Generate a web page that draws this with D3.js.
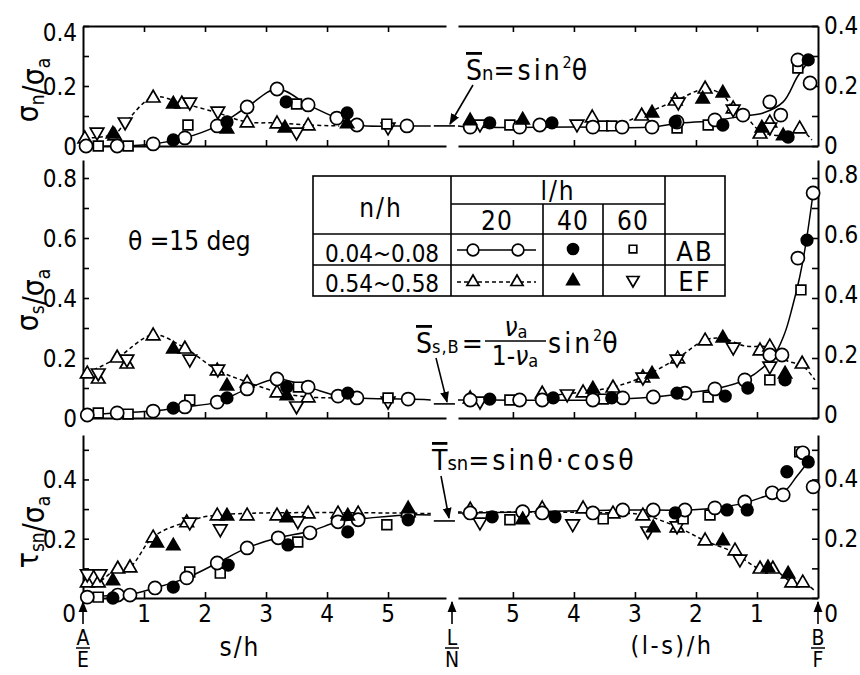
<!DOCTYPE html>
<html>
<head>
<meta charset="utf-8">
<script src="https://cdn.jsdelivr.net/npm/d3@7"></script>
<style>
  body { margin: 0; background: #fff; }
  svg { display: block; }
  text { font-family: "DejaVu Sans Condensed", "Liberation Sans Narrow", "DejaVu Sans", sans-serif; fill: #000; }
</style>
</head>
<body>
<svg id="chart" width="860" height="675"></svg>
<script>
// Stress distributions along the interface, theta = 15 deg.
// Each point is [distance/h, stress ratio]; "L" arrays are measured by s/h from end A/E,
// "R" arrays by (l-s)/h from end B/F.
// Series: C20 open circle (AB, l/h=20), C40 filled circle (AB, l/h=40), S60 square (AB, l/h=60),
//         T20 open triangle (EF, l/h=20), T40 filled triangle (EF, l/h=40), I60 inverted triangle (EF, l/h=60).

// ---- sigma_n / sigma_a ----
const snC20L = [[0.05,0],[0.56,0],[1.15,0.007],[1.67,0.027],[2.2,0.067],[2.69,0.13],[3.18,0.19],[3.69,0.137],[4.16,0.093],[4.49,0.07],[5.31,0.067]];
const snC40L = [[1.48,0.02],[2.36,0.08],[3.33,0.147],[4.33,0.11]];
const snS60L = [[0.25,0],[0.74,0],[1.72,0.07],[3.5,0.14],[4.98,0.073]];
const snT20L = [[0.03,0.027],[0.52,0.037],[1.15,0.163],[1.62,0.143],[2.69,0.08],[3.18,0.077],[3.69,0.07]];
const snT40L = [[0.49,0.043],[1.48,0.143],[2.36,0.06],[3.31,0.063],[4.33,0.077]];
const snI60L = [[0.23,0.043],[0.69,0.077],[1.75,0.143],[2.21,0.113],[3.5,0.043],[5.0,0.06]];
const snC20R = [[5.7,0.063],[4.89,0.063],[4.56,0.07],[3.69,0.063],[3.21,0.063],[2.72,0.063],[2.31,0.08],[1.69,0.087],[1.23,0.103],[0.79,0.147],[0.61,0.103],[0.33,0.287],[0.13,0.21]];
const snC40R = [[5.38,0.077],[4.36,0.077],[2.34,0.08],[1.56,0.07],[0.49,0.03],[0.16,0.287]];
const snS60R = [[5.05,0.07],[3.52,0.067],[3.38,0.067],[2.31,0.06],[1.8,0.07],[0.33,0.26]];
const snT20R = [[3.7,0.097],[2.89,0.103],[2.34,0.153],[1.85,0.193],[1.39,0.127],[0.95,0.043],[0.79,0.08],[0.3,0.06]];
const snT40R = [[5.7,0.087],[4.84,0.09],[2.72,0.113],[1.89,0.16],[1.56,0.18],[0.92,0.063],[0.57,0.037]];
const snI60R = [[5.54,0.07],[3.95,0.07],[2.29,0.143],[1.39,0.12],[0.79,0.06]];
const snCurveC20L = [[0.05,0],[0.56,0],[1.15,0.007],[1.67,0.027],[2.2,0.067],[2.69,0.13],[3.18,0.19],[3.69,0.137],[4.16,0.093],[4.49,0.07],[5.31,0.067],[5.7,0.067]];
const snCurveT20L = [[0.03,0.027],[0.52,0.04],[0.69,0.077],[1.15,0.163],[1.62,0.143],[2.21,0.11],[2.69,0.08],[3.18,0.077],[3.69,0.07],[4.2,0.067]];
const snCurveC20R = [[5.9,0.067],[5.7,0.063],[4.0,0.063],[2.72,0.063],[2.31,0.075],[1.69,0.085],[1.23,0.1],[0.9,0.11],[0.57,0.147],[0.34,0.23],[0.2,0.27]];
const snCurveT20R = [[3.3,0.067],[2.89,0.103],[2.34,0.15],[1.85,0.19],[1.56,0.17],[1.39,0.125],[1.15,0.09],[0.95,0.05],[0.6,0.035],[0.3,0.055],[0.1,0.02]];
const snRef = 0.067;   // S_n = sin^2(theta)

// ---- sigma_s / sigma_a ----
const ssC20L = [[0.07,0.01],[0.56,0.017],[1.15,0.023],[1.67,0.037],[2.2,0.053],[2.69,0.097],[3.18,0.13],[3.69,0.103],[4.18,0.073],[4.49,0.067],[5.33,0.063]];
const ssC40L = [[1.48,0.033],[2.36,0.067],[3.34,0.103],[4.34,0.083]];
const ssS60L = [[0.25,0.017],[0.74,0.013],[1.75,0.06],[3.53,0.103],[5.0,0.067]];
const ssT20L = [[0.07,0.15],[0.25,0.133],[0.56,0.203],[0.72,0.183],[1.15,0.277],[1.67,0.233],[2.2,0.16],[2.69,0.12],[3.18,0.087],[3.69,0.07]];
const ssT40L = [[1.48,0.233],[2.36,0.11],[3.34,0.077]];
const ssI60L = [[0.25,0.147],[0.72,0.193],[1.75,0.193],[2.21,0.16],[3.5,0.037],[5.0,0.053]];
const ssC20R = [[5.7,0.06],[4.89,0.06],[4.52,0.06],[3.69,0.06],[3.2,0.067],[2.7,0.07],[2.18,0.083],[1.69,0.097],[1.2,0.127],[0.79,0.21],[0.59,0.21],[0.33,0.533],[0.08,0.75]];
const ssC40R = [[5.38,0.063],[4.34,0.067],[3.38,0.067],[2.31,0.083],[1.52,0.073],[1.15,0.1],[0.54,0.127],[0.18,0.593]];
const ssS60R = [[5.05,0.06],[3.52,0.063],[1.8,0.07],[0.79,0.127],[0.28,0.427]];
const ssT20R = [[5.7,0.067],[4.52,0.083],[3.85,0.087],[3.36,0.103],[2.87,0.137],[2.3,0.2],[1.85,0.26],[0.95,0.227],[0.79,0.24],[0.26,0.183]];
const ssT40R = [[3.69,0.1],[2.72,0.15],[1.56,0.27],[0.54,0.15]];
const ssI60R = [[5.54,0.053],[4.11,0.077],[2.87,0.133],[2.31,0.193],[1.39,0.233],[0.79,0.17]];
const ssCurveC20L = [[0.07,0.01],[0.56,0.017],[1.15,0.023],[1.67,0.037],[2.2,0.053],[2.69,0.097],[3.18,0.13],[3.69,0.103],[4.18,0.073],[4.49,0.067],[5.33,0.063],[5.7,0.06]];
const ssCurveT20L = [[0.07,0.15],[0.56,0.2],[1.15,0.277],[1.67,0.233],[2.2,0.16],[2.69,0.12],[3.18,0.087],[3.69,0.07],[4.2,0.067]];
const ssCurveC20R = [[5.9,0.06],[5.7,0.06],[3.7,0.06],[2.7,0.07],[2.18,0.083],[1.69,0.097],[1.2,0.127],[0.75,0.2],[0.55,0.28],[0.42,0.37],[0.3,0.47],[0.2,0.58],[0.08,0.75]];
const ssCurveT20R = [[4.6,0.07],[3.85,0.087],[3.36,0.103],[2.87,0.137],[2.3,0.2],[1.85,0.26],[1.56,0.265],[1.2,0.24],[0.79,0.235],[0.5,0.19],[0.26,0.175],[0.05,0.127]];
const ssRef = 0.047;   // S_s,B = nu_a/(1-nu_a) sin^2(theta)

// ---- tau_sn / sigma_a ----
const tsC20L = [[0.07,0.003],[0.57,0.01],[0.77,0.01],[1.18,0.034],[1.7,0.068],[2.2,0.118],[2.69,0.169],[3.2,0.203],[3.72,0.22],[4.18,0.257],[4.51,0.264],[5.33,0.28]];
const tsC40L = [[0.49,0.0],[1.48,0.037],[2.38,0.111],[3.36,0.179],[4.34,0.223],[5.33,0.264]];
const tsS60L = [[0.25,0.003],[1.75,0.088],[2.25,0.084],[3.52,0.189],[4.98,0.247]];
const tsT20L = [[0.07,0.054],[0.25,0.054],[0.57,0.101],[0.77,0.105],[1.15,0.206],[1.7,0.257],[2.2,0.28],[2.69,0.28],[3.18,0.28],[3.69,0.287],[4.18,0.287],[4.51,0.287],[5.33,0.291]];
const tsT40L = [[0.49,0.061],[1.21,0.189],[1.48,0.179],[2.36,0.28],[3.34,0.274],[4.34,0.28],[5.33,0.304]];
const tsI60L = [[0.07,0.078],[0.28,0.078],[1.75,0.253],[2.25,0.23],[3.52,0.257]];
const tsC20R = [[5.7,0.287],[4.84,0.291],[4.52,0.287],[3.69,0.287],[3.2,0.297],[2.7,0.297],[2.18,0.297],[1.69,0.304],[1.2,0.324],[0.75,0.355],[0.57,0.348],[0.25,0.49],[0.08,0.375]];
const tsC40R = [[5.34,0.274],[4.31,0.274],[2.34,0.287],[1.49,0.297],[1.16,0.297],[0.51,0.426],[0.16,0.459]];
const tsS60R = [[5.05,0.264],[3.52,0.267],[2.21,0.267],[1.77,0.28],[0.3,0.493]];
const tsT20R = [[5.7,0.3],[4.52,0.304],[3.85,0.304],[3.36,0.287],[2.87,0.28],[2.31,0.24],[1.85,0.196],[1.36,0.162],[0.95,0.101],[0.74,0.101],[0.43,0.054],[0.25,0.054]];
const tsT40R = [[4.84,0.267],[2.7,0.24],[1.56,0.196],[0.82,0.105],[0.49,0.084]];
const tsI60R = [[5.54,0.253],[4.02,0.247],[2.79,0.223],[2.31,0.24],[1.28,0.128]];
const tsCurveC20L = [[0.07,0.003],[0.57,0.01],[0.77,0.012],[1.18,0.034],[1.7,0.068],[2.2,0.118],[2.69,0.169],[3.2,0.203],[3.72,0.225],[4.18,0.257],[4.51,0.266],[5.33,0.28],[5.7,0.28]];
const tsCurveT20L = [[0.07,0.054],[0.25,0.054],[0.57,0.101],[0.77,0.105],[1.15,0.206],[1.7,0.257],[2.2,0.28],[5.7,0.285]];
const tsCurveC20R = [[5.9,0.287],[5.7,0.287],[3.2,0.297],[2.18,0.297],[1.69,0.304],[1.2,0.321],[0.75,0.351],[0.55,0.36],[0.35,0.41],[0.16,0.46]];
const tsCurveT20R = [[5.9,0.29],[3.36,0.287],[2.87,0.28],[2.31,0.24],[1.85,0.193],[1.39,0.155],[0.98,0.101],[0.75,0.1],[0.43,0.054],[0.25,0.054],[0.03,0.02]];
const tsRef = 0.26;    // T_sn = sin(theta) cos(theta)

// axis ticks and labels
const xTickValues = [1, 2, 3, 4, 5];
const snTicks = [0, 0.1, 0.2, 0.3, 0.4],  snLabels = [0, 0.2, 0.4];
const ssTicks = [0, 0.1, 0.2, 0.3, 0.4, 0.5, 0.6, 0.7, 0.8], ssLabels = [0, 0.2, 0.4, 0.6, 0.8];
const tsTicks = [0, 0.1, 0.2, 0.3, 0.4, 0.5], tsLabels = [0.2, 0.4];

// legend rows
const nhRanges = ["0.04~0.08", "0.54~0.58"];
const lhValues = ["20", "40", "60"];
const edgeNames = ["AB", "EF"];

// ---------------------------------------------------------------
const svg = d3.select("#chart");
const fmt = v => v === 0 ? "0" : d3.format(".1f")(v);

const xL = d3.scaleLinear().domain([0, 5.95]).range([83, 446]);
const xR = d3.scaleLinear().domain([0, 5.9]).range([818, 458]);

const panels = [
  { y: d3.scaleLinear().domain([0, 0.4]).range([146, 26]), ticks: snTicks, labels: snLabels, topLine: true, zeroLabel: true,
    series: { C20: [snC20L, snC20R], C40: [snC40L, snC40R], S60: [snS60L, snS60R], T20: [snT20L, snT20R], T40: [snT40L, snT40R], I60: [snI60L, snI60R] },
    curves: { solid: [snCurveC20L, snCurveC20R], dashed: [snCurveT20L, snCurveT20R] }, ref: snRef },
  { y: d3.scaleLinear().domain([0, 0.86]).range([418, 160]), ticks: ssTicks, labels: ssLabels, topLine: false, zeroLabel: true,
    series: { C20: [ssC20L, ssC20R], C40: [ssC40L, ssC40R], S60: [ssS60L, ssS60R], T20: [ssT20L, ssT20R], T40: [ssT40L, ssT40R], I60: [ssI60L, ssI60R] },
    curves: { solid: [ssCurveC20L, ssCurveC20R], dashed: [ssCurveT20L, ssCurveT20R] }, ref: ssRef },
  { y: d3.scaleLinear().domain([0, 0.55]).range([598, 435]), ticks: tsTicks, labels: tsLabels, topLine: false, zeroLabel: false,
    series: { C20: [tsC20L, tsC20R], C40: [tsC40L, tsC40R], S60: [tsS60L, tsS60R], T20: [tsT20L, tsT20R], T40: [tsT40L, tsT40R], I60: [tsI60L, tsI60R] },
    curves: { solid: [tsCurveC20L, tsCurveC20R], dashed: [tsCurveT20L, tsCurveT20R] }, ref: tsRef }
];

const symbolStyle = {
  T20: { type: d3.symbolTriangle, size: 80, fill: "#fff", rot: 0 },
  I60: { type: d3.symbolTriangle, size: 80, fill: "#fff", rot: 180 },
  S60: { type: d3.symbolSquare, size: 95, fill: "#fff", rot: 0 },
  C20: { type: d3.symbolCircle, size: 135, fill: "#fff", rot: 0 },
  C40: { type: d3.symbolCircle, size: 105, fill: "#000", rot: 0 },
  T40: { type: d3.symbolTriangle, size: 75, fill: "#000", rot: 0 }
};
const drawOrder = ["T20", "I60", "S60", "C20", "C40", "T40"];

function drawSymbol(g, key, cx, cy, scale = 1) {
  const st = symbolStyle[key];
  const shift = (st.type === d3.symbolTriangle) ? (st.rot ? -1 : 1) : 0;
  g.append("path")
    .attr("d", d3.symbol().type(st.type).size(st.size * scale)())
    .attr("transform", `translate(${cx},${cy + shift}) rotate(${st.rot})`)
    .attr("fill", st.fill)
    .attr("stroke", "#000")
    .attr("stroke-width", 1.7);
}

// arrowhead
svg.append("defs").append("marker")
  .attr("id", "arrow").attr("viewBox", "0 0 10 10").attr("refX", 9).attr("refY", 5)
  .attr("markerWidth", 7).attr("markerHeight", 7).attr("orient", "auto-start-reverse")
  .append("path").attr("d", "M0,1 L10,5 L0,9 z").attr("fill", "#000");

panels.forEach((p, i) => {
  const g = svg.append("g");
  const y = p.y;
  const yTop = y.range()[1], yBot = y.range()[0];

  // vertical axes, ticks pointing inward
  const leftAxis = d3.axisRight(y).tickValues(p.ticks).tickSize(6).tickSizeOuter(0).tickFormat("");
  const rightAxis = d3.axisLeft(y).tickValues(p.ticks).tickSize(6).tickSizeOuter(0).tickFormat("");
  g.append("g").attr("transform", `translate(${xL(0)},0)`).call(leftAxis);
  g.append("g").attr("transform", `translate(${xR(0)},0)`).call(rightAxis);

  // broken horizontal baseline with upward ticks
  [xL, xR].forEach(xs => {
    g.append("g").attr("transform", `translate(0,${yBot})`)
      .call(d3.axisTop(xs).tickValues(xTickValues).tickSize(6).tickSizeOuter(0).tickFormat(""));
    if (p.topLine) {
      g.append("g").attr("transform", `translate(0,${yTop})`)
        .call(d3.axisBottom(xs).tickValues(xTickValues).tickSize(6).tickSizeOuter(0).tickFormat(""));
    }
  });

  // tick labels
  p.labels.forEach(v => {
    if (v === 0 && !p.zeroLabel) return;
    g.append("text").attr("x", 77).attr("y", y(v) + (v === 0.4 && i === 0 ? 7 : 1))
      .attr("text-anchor", "end").attr("dominant-baseline", "central").attr("font-size", 24).text(fmt(v));
    g.append("text").attr("x", 824).attr("y", y(v) - (i === 1 ? 3 : 0))
      .attr("text-anchor", "start").attr("dominant-baseline", "central").attr("font-size", 24).text(fmt(v));
  });

  // reference level bridging the break
  g.append("line")
    .attr("x1", xL(5.75)).attr("x2", xR(5.95))
    .attr("y1", y(p.ref)).attr("y2", y(p.ref))
    .attr("stroke", "#000").attr("stroke-width", 1.6);

  // fitted curves
  const sides = [xL, xR];
  ["dashed", "solid"].forEach(kind => {
    p.curves[kind].forEach((arr, s) => {
      const line = d3.line().x(d => sides[s](d[0])).y(d => y(d[1])).curve(d3.curveCatmullRom.alpha(0.5));
      g.append("path").attr("d", line(arr)).attr("fill", "none").attr("stroke", "#000")
        .attr("stroke-width", 1.5).attr("stroke-dasharray", kind === "dashed" ? "4,3" : null);
    });
  });

  // symbols
  drawOrder.forEach(key => {
    p.series[key].forEach((arr, s) => {
      arr.forEach(d => drawSymbol(g, key, sides[s](d[0]), y(d[1])));
    });
  });
});

svg.selectAll(".domain").attr("stroke-width", 2);
svg.selectAll(".tick line").attr("stroke-width", 1.6);

// ---- x-axis labels ----
xTickValues.forEach(v => {
  svg.append("text").attr("x", xL(v)).attr("y", 622).attr("text-anchor", "middle").attr("font-size", 24).text(v);
  svg.append("text").attr("x", xR(v)).attr("y", 622).attr("text-anchor", "middle").attr("font-size", 24).text(v);
});
svg.append("text").attr("x", 69).attr("y", 622).attr("text-anchor", "middle").attr("font-size", 24).text("0");
svg.append("text").attr("x", 831).attr("y", 622).attr("text-anchor", "middle").attr("font-size", 24).text("0");
svg.append("text").attr("x", 240).attr("y", 656).attr("text-anchor", "middle").attr("font-size", 26).attr("letter-spacing", 2).text("s/h");
svg.append("text").attr("x", 672).attr("y", 654).attr("text-anchor", "middle").attr("font-size", 25).attr("letter-spacing", 2.5).text("(l-s)/h");

// end markers with arrows
[[xL(0), "A", "E"], [452, "L", "N"], [xR(0), "B", "F"]].forEach(([x, top, bot]) => {
  svg.append("line").attr("x1", x).attr("x2", x).attr("y1", 624).attr("y2", 602)
    .attr("stroke", "#000").attr("stroke-width", 1.6).attr("marker-end", "url(#arrow)");
  svg.append("text").attr("x", x).attr("y", 645).attr("text-anchor", "middle").attr("font-size", 21).text(top);
  svg.append("line").attr("x1", x - 7).attr("x2", x + 7).attr("y1", 648).attr("y2", 648).attr("stroke", "#000").attr("stroke-width", 1.5);
  svg.append("text").attr("x", x).attr("y", 667).attr("text-anchor", "middle").attr("font-size", 21).text(bot);
});

// ---- y-axis titles ----
function yTitle(cy, parts) {
  const t = svg.append("text").attr("transform", `translate(38,${cy}) rotate(-90)`).attr("text-anchor", "middle").attr("font-size", 30);
  parts.forEach(([str, sub]) => {
    t.append("tspan").text(str);
    if (sub) t.append("tspan").attr("font-size", 19).attr("dy", 6).text(sub);
    if (sub) t.append("tspan").attr("dy", -6).text("");
  });
}
yTitle(90, [["σ", "n"], ["/σ", "a"]]);
yTitle(300, [["σ", "s"], ["/σ", "a"]]);
yTitle(532, [["τ", "sn"], ["/σ", "a"]]);

// ---- angle note ----
svg.append("text").attr("x", 128).attr("y", 250).attr("font-size", 26).text("θ =15 deg");

// ---- legend table ----
const lg = svg.append("g").attr("stroke", "#000").attr("stroke-width", 1.6);
lg.append("rect").attr("x", 313).attr("y", 176).attr("width", 412).attr("height", 120).attr("fill", "none");
[[451, 176, 296], [543, 204, 296], [603, 204, 296], [665, 176, 296]].forEach(([x, a, b]) =>
  lg.append("line").attr("x1", x).attr("x2", x).attr("y1", a).attr("y2", b));
[[204, 451, 665], [234, 313, 725], [265, 313, 725]].forEach(([yy, a, b]) =>
  lg.append("line").attr("y1", yy).attr("y2", yy).attr("x1", a).attr("x2", b));

svg.append("text").attr("x", 381).attr("y", 217).attr("text-anchor", "middle").attr("font-size", 26).attr("letter-spacing", 2).text("n/h");
svg.append("text").attr("x", 558).attr("y", 200).attr("text-anchor", "middle").attr("font-size", 26).attr("letter-spacing", 2).text("l/h");
[497, 573, 633].forEach((x, k) =>
  svg.append("text").attr("x", x).attr("y", 230).attr("text-anchor", "middle").attr("font-size", 26).attr("letter-spacing", 1).text(lhValues[k]));
[262, 292].forEach((yy, k) => {
  svg.append("text").attr("x", 382).attr("y", yy).attr("text-anchor", "middle").attr("font-size", 24).text(nhRanges[k]);
  svg.append("text").attr("x", 695).attr("y", yy - 1).attr("text-anchor", "middle").attr("font-size", 27).attr("letter-spacing", 2).text(edgeNames[k]);
});
const lgSym = svg.append("g");
lgSym.append("line").attr("x1", 457).attr("x2", 536).attr("y1", 250).attr("y2", 250).attr("stroke", "#000").attr("stroke-width", 1.5);
lgSym.append("line").attr("x1", 457).attr("x2", 536).attr("y1", 282).attr("y2", 282).attr("stroke", "#000").attr("stroke-width", 1.5).attr("stroke-dasharray", "4,3");
drawSymbol(lgSym, "C20", 473, 250, 0.8);
drawSymbol(lgSym, "C20", 518, 250, 0.8);
drawSymbol(lgSym, "C40", 573, 249, 0.9);
drawSymbol(lgSym, "S60", 633, 249, 0.6);
drawSymbol(lgSym, "T20", 473, 281, 0.8);
drawSymbol(lgSym, "T20", 517, 281, 0.8);
drawSymbol(lgSym, "T40", 573, 280, 0.9);
drawSymbol(lgSym, "I60", 633, 281, 0.8);

// ---- formula annotations ----
const f1 = svg.append("text").attr("x", 466).attr("y", 80).attr("font-size", 28);
f1.append("tspan").style("text-decoration", "overline").text("S");
f1.append("tspan").attr("font-size", 20).text("n");
f1.append("tspan").attr("letter-spacing", 3).text("=sin");
f1.append("tspan").attr("font-size", 16).attr("dy", -12).text("2");
f1.append("tspan").attr("dy", 12).text("θ");
svg.append("line").attr("x1", 473).attr("y1", 85).attr("x2", 450).attr("y2", 124)
  .attr("stroke", "#000").attr("stroke-width", 1.6).attr("marker-end", "url(#arrow)");

const f2 = svg.append("text").attr("x", 416).attr("y", 353).attr("font-size", 28);
f2.append("tspan").style("text-decoration", "overline").text("S");
f2.append("tspan").attr("font-size", 18).attr("letter-spacing", 1).text("s,B");
f2.append("tspan").attr("font-size", 28).attr("dx", 2).text("=");
const num = svg.append("text").attr("x", 516).attr("y", 336).attr("text-anchor", "middle").attr("font-size", 26);
num.append("tspan").attr("font-style", "italic").text("ν");
num.append("tspan").attr("font-size", 18).attr("dy", 2).text("a");
svg.append("line").attr("x1", 485).attr("x2", 546).attr("y1", 341).attr("y2", 341).attr("stroke", "#000").attr("stroke-width", 1.6);
const den = svg.append("text").attr("x", 515).attr("y", 365).attr("text-anchor", "middle").attr("font-size", 26);
den.append("tspan").text("1-");
den.append("tspan").attr("font-style", "italic").text("ν");
den.append("tspan").attr("font-size", 18).attr("dy", 2).text("a");
const f2b = svg.append("text").attr("x", 548).attr("y", 353).attr("font-size", 28);
f2b.append("tspan").attr("letter-spacing", 3).text("sin");
f2b.append("tspan").attr("font-size", 16).attr("dy", -12).text("2");
f2b.append("tspan").attr("dy", 12).text("θ");
svg.append("line").attr("x1", 436).attr("y1", 358).attr("x2", 447).attr("y2", 402)
  .attr("stroke", "#000").attr("stroke-width", 1.6).attr("marker-end", "url(#arrow)");

const f3 = svg.append("text").attr("x", 432).attr("y", 470).attr("font-size", 28);
f3.append("tspan").style("text-decoration", "overline").text("T");
f3.append("tspan").attr("font-size", 20).text("sn");
f3.append("tspan").attr("letter-spacing", 3).text("=sinθ·cosθ");
svg.append("line").attr("x1", 441).attr("y1", 476).attr("x2", 449).attr("y2", 518)
  .attr("stroke", "#000").attr("stroke-width", 1.6).attr("marker-end", "url(#arrow)");
</script>
</body>
</html>
